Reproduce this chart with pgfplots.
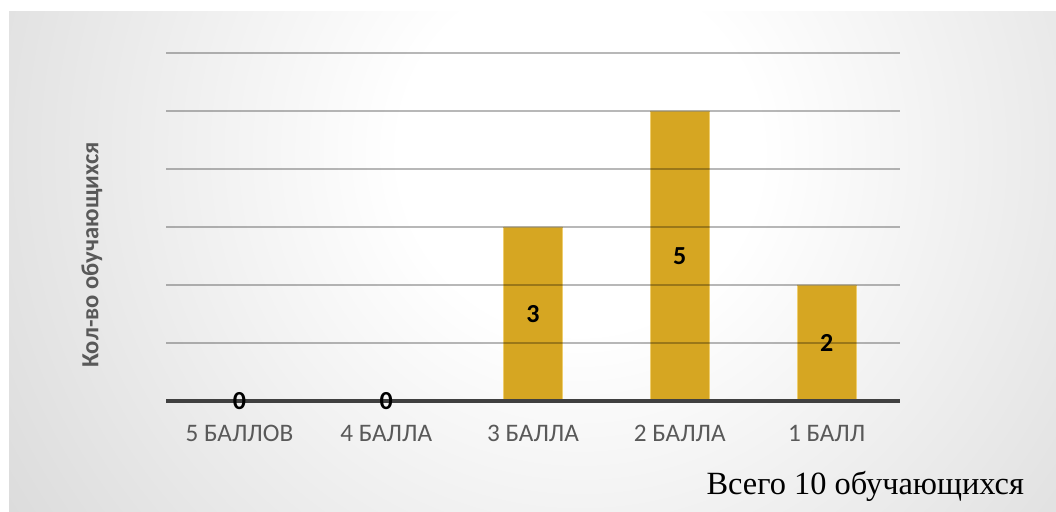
\documentclass[border=0pt]{standalone}
\usepackage{fontspec}
\setmainfont{Carlito}
\newfontfamily\serif{Liberation Serif}
\usepackage{pgfplots}
\pgfplotsset{compat=1.18}
\definecolor{barc}{RGB}{214,166,34}
\definecolor{baredge}{RGB}{238,205,110}
\definecolor{tickc}{RGB}{89,89,89}
\pgfdeclareradialshading{bgshade}{\pgfpoint{0bp}{0bp}}{color(0bp)=(white); color(7bp)=(white); color(45bp)=(black!27); color(50bp)=(black!27)}
\begin{document}
\begin{tikzpicture}
\useasboundingbox (0,0) rectangle (528pt,256pt);
\fill[white] (0,0) rectangle (528pt,256pt);
\begin{scope}
\clip (4.5pt,0) rectangle (528pt,250pt);
\shade[shading=bgshade] (-30pt,-140pt) rectangle (610pt,500pt);
\end{scope}
\node[rotate=90, font=\bfseries\fontsize{12.3}{14}\selectfont, text=tickc] at (46pt,128.5pt) {Кол-во обучающихся};
\node[anchor=base east, font=\serif\fontsize{16.2}{19}\selectfont, text=black] at (515.5pt,8.5pt) {Всего 10 обучающихся};
\begin{axis}[
  at={(83pt,55.5pt)}, anchor=south west,
  scale only axis, width=367pt, height=174pt,
  xmin=-0.5, xmax=4.5, ymin=0, ymax=6,
  axis x line*=bottom, axis y line*=left,
  y axis line style={draw=none},
  x axis line style={line width=1.6pt, color=black!75},
  ytick={0,...,6}, yticklabels={}, ytick style={draw=none},
  ymajorgrids, grid style={line width=0.8pt, black, opacity=0.28},
  xtick={0,...,4}, xtick style={draw=none},
  xticklabels={5 БАЛЛОВ, 4 БАЛЛА, 3 БАЛЛА, 2 БАЛЛА, 1 БАЛЛ},
  xticklabel style={anchor=base, yshift=-20.5pt, font=\fontsize{12.6}{14}\selectfont, text=tickc},
  axis on top,
  clip=false,
]
\addplot[ybar, bar width=29.5pt, fill=barc, draw=baredge, line width=0.4pt] coordinates {(0,0) (1,0) (2,3) (3,5) (4,2)};
\addplot[draw=none, nodes near coords, point meta=explicit symbolic,
  every node near coord/.style={anchor=center, font=\bfseries\fontsize{13}{15}\selectfont, text=black}]
  coordinates {(0,0) [0] (1,0) [0] (2,1.5) [3] (3,2.5) [5] (4,1) [2]};
\end{axis}
\end{tikzpicture}
\end{document}
